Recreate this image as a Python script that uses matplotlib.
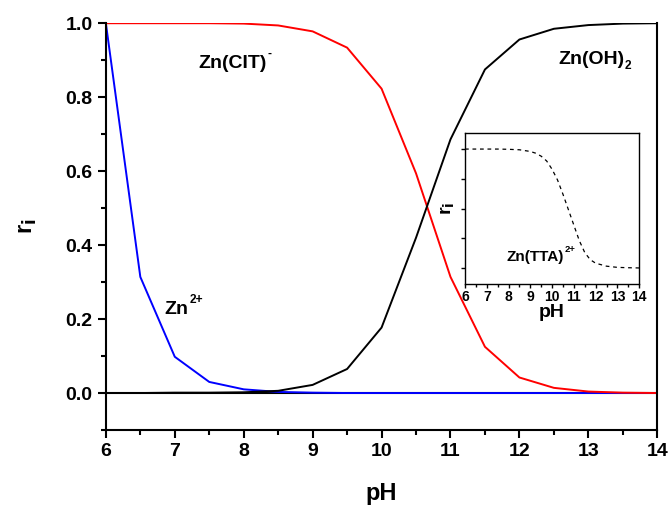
import numpy as np
import matplotlib.pyplot as plt
from matplotlib.ticker import MultipleLocator

plt.rcParams['font.family'] = ['Liberation Sans', 'DejaVu Sans']
plt.rcParams['font.weight'] = 'bold'

# pH grid and fractions
ph = [6, 6.5, 7, 7.5, 8, 8.5, 9, 9.5, 10, 10.5, 11, 11.5, 12, 12.5, 13, 13.5, 14]
zn2 = [1.0, 0.314, 0.098, 0.03, 0.01, 0.003, 0.001, 0.0, 0.0, 0.0, 0.0, 0.0, 0.0, 0.0, 0.0, 0.0, 0.0]
zncit = [1.0, 1.0, 1.0, 1.0, 0.999, 0.994, 0.978, 0.934, 0.823, 0.594, 0.314, 0.125, 0.042, 0.014, 0.004, 0.001, 0.0]
znoh2 = [0.0, 0.0, 0.001, 0.001, 0.002, 0.006, 0.022, 0.065, 0.177, 0.42, 0.686, 0.875, 0.956, 0.985, 0.995, 0.999, 1.0]

# inset: Zn(TTA)2+
ph_in = [6, 6.5, 7, 7.5, 8, 8.5, 9, 9.25, 9.5, 9.75, 10, 10.25, 10.5, 10.75, 11, 11.25, 11.5, 11.75, 12, 12.5, 13, 13.5, 14]
zntta = [1.0, 1.0, 1.0, 1.0, 0.998, 0.994, 0.98, 0.965, 0.94, 0.9, 0.83, 0.74, 0.62, 0.49, 0.36, 0.23, 0.13, 0.07, 0.04, 0.015, 0.005, 0.002, 0.0]


def label(a, x, y, base, sup=None, sub=None, size=14):
    # base text plus a small raised / lowered part, like the Origin labels
    t = a.text(x, y, base, fontsize=size, fontweight='bold', va='baseline')
    fig.canvas.draw()
    bb = t.get_window_extent()
    inv = a.transData.inverted()
    x1 = inv.transform((bb.x1, bb.y0))[0]
    if sup:
        a.annotate(sup, (x1, y), xytext=(0.5, size * 0.55), textcoords='offset points',
                   fontsize=size * 0.62, fontweight='bold', va='baseline')
    if sub:
        a.annotate(sub, (x1, y), xytext=(-0.5, -size * 0.28), textcoords='offset points',
                   fontsize=size * 0.62, fontweight='bold', va='baseline')


fig = plt.figure(figsize=(6.7, 5.05), dpi=100)
ax = fig.add_axes([0.158, 0.1485, 0.823, 0.8055])

ax.axhline(0, color='black', lw=1.5)
ax.plot(ph, zn2, color='blue', lw=1.4)
ax.plot(ph, zncit, color='red', lw=1.4)
ax.plot(ph, znoh2, color='black', lw=1.4)

ax.set_xlim(6, 14)
ax.set_ylim(-0.1, 1.0)
ax.xaxis.set_major_locator(MultipleLocator(1))
ax.xaxis.set_minor_locator(MultipleLocator(0.5))
ax.yaxis.set_major_locator(MultipleLocator(0.2))
ax.yaxis.set_minor_locator(MultipleLocator(0.1))
ax.yaxis.set_major_formatter(plt.FuncFormatter(lambda v, p: f'{v:.1f}'))
ax.tick_params(which='major', direction='out', length=6, width=1.5, labelsize=14)
ax.tick_params(which='minor', direction='out', length=3.5, width=1.5)
ax.spines['top'].set_visible(False)
for s in ['left', 'bottom', 'right']:
    ax.spines[s].set_linewidth(1.5)
for lab in ax.get_xticklabels() + ax.get_yticklabels():
    lab.set_fontweight('bold')

ax.set_xlabel('pH', fontsize=17, fontweight='bold', labelpad=16)
ax.set_ylabel(r'r$_\mathbf{i}$', fontsize=17, fontweight='bold', labelpad=19)

label(ax, 7.34, 0.88, 'Zn(CIT)', sup='-')
label(ax, 12.57, 0.89, 'Zn(OH)', sub='2')
label(ax, 6.85, 0.215, 'Zn', sup='2+')

# inset
ins = fig.add_axes([0.694, 0.4376, 0.26, 0.299])
ins.plot(ph_in, zntta, color='black', lw=0.9, ls=(0, (3, 3)))
ins.set_xlim(6, 14)
ins.set_ylim(-0.135, 1.135)
ins.xaxis.set_major_locator(MultipleLocator(1))
ins.xaxis.set_minor_locator(MultipleLocator(0.5))
ins.set_yticks([0, 0.25, 0.5, 0.75, 1.0])
ins.set_yticklabels([])
ins.tick_params(which='major', direction='out', length=3, width=1, labelsize=10, pad=1)
ins.tick_params(which='minor', direction='out', length=2, width=1)
for lab in ins.get_xticklabels():
    lab.set_fontweight('bold')
for s in ins.spines.values():
    s.set_linewidth(1)
ins.set_xlabel('pH', fontsize=14, fontweight='bold', labelpad=0)
ins.set_ylabel(r'r$_\mathbf{i}$', fontsize=14, fontweight='bold', labelpad=2)
label(ins, 7.9, 0.06, 'Zn(TTA)', sup='2+', size=11)

fig.savefig('out.png', dpi=100)
